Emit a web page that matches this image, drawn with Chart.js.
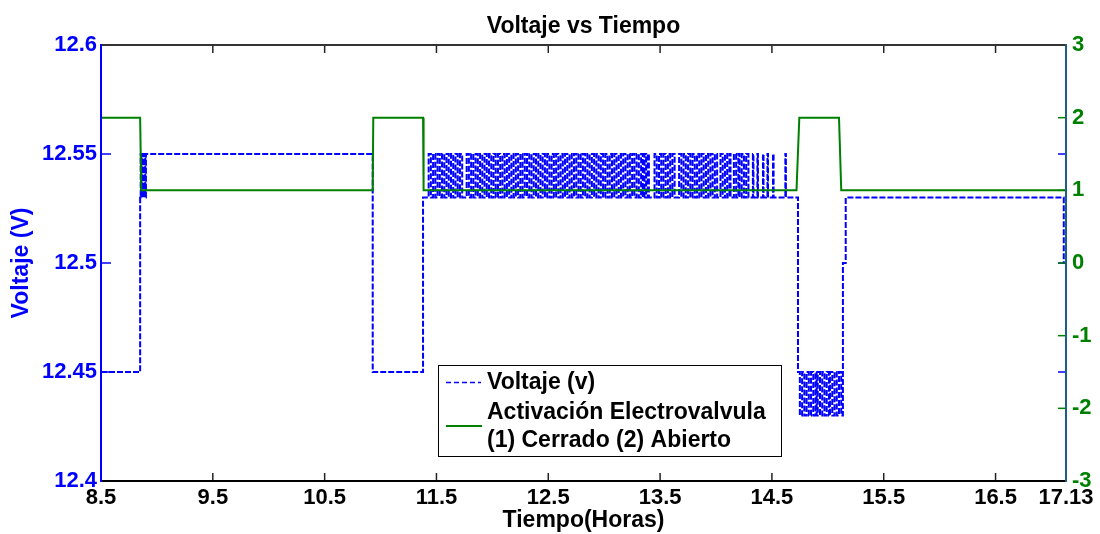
<!DOCTYPE html>
<html><head><meta charset="utf-8">
<script src="https://cdn.jsdelivr.net/npm/chart.js@4.4.1/dist/chart.umd.min.js"></script>
<style>html,body{margin:0;padding:0;background:#fff;}canvas{display:block;}</style>
</head><body>
<canvas id="c" width="1100" height="534"></canvas>
<script>
const chartTitle = 'Voltaje vs Tiempo';
const xTitle = 'Tiempo(Horas)';
const yTitle = 'Voltaje (V)';
const xTicks = [8.5, 9.5, 10.5, 11.5, 12.5, 13.5, 14.5, 15.5, 16.5, 17.13];
const yLeftTicks = [12.4, 12.45, 12.5, 12.55, 12.6];
const yRightTicks = [-3, -2, -1, 0, 1, 2, 3];
const legendVoltage = 'Voltaje (v)';
const legendValve = ['Activación Electrovalvula', '(1) Cerrado (2) Abierto'];

// Voltage (V): each value holds from its time (hours) until the next time
const voltTime = [
  8.5, 8.85, 8.855, 8.86, 8.866, 8.872, 8.878, 8.884, 8.89, 8.896, 8.902,
  10.93, 11.38,
  11.43, 11.45, 11.47, 11.49, 11.51, 11.53, 11.55, 11.57, 11.59, 11.61, 11.63, 11.65, 11.67, 11.69, 11.71, 11.73,
  11.77, 11.79, 11.81, 11.83, 11.85, 11.87, 11.89, 11.91, 11.93, 11.95, 11.97, 11.99,
  12.01, 12.03, 12.05, 12.07, 12.09, 12.11, 12.13, 12.15, 12.17, 12.19, 12.21, 12.23, 12.25, 12.27, 12.29,
  12.31, 12.33, 12.35, 12.37, 12.39, 12.41, 12.43, 12.45, 12.47, 12.49, 12.51, 12.53, 12.55, 12.57, 12.59,
  12.61, 12.63, 12.65, 12.67, 12.69, 12.71, 12.73, 12.75, 12.77, 12.79, 12.81, 12.83, 12.85, 12.87, 12.89,
  12.91, 12.93, 12.95, 12.97, 12.99, 13.01, 13.03, 13.05, 13.07, 13.09, 13.11, 13.13, 13.15, 13.17, 13.19,
  13.21, 13.23, 13.25, 13.27, 13.29, 13.31,
  13.33, 13.345, 13.36, 13.375, 13.39, 13.40,
  13.45, 13.47, 13.49, 13.51, 13.53, 13.55, 13.57, 13.59, 13.61, 13.63,
  13.67, 13.69, 13.71, 13.73, 13.75, 13.77, 13.79, 13.81, 13.83, 13.85, 13.87, 13.89, 13.91, 13.93, 13.95, 13.97, 13.99, 14.01,
  14.04, 14.06, 14.08, 14.10, 14.12, 14.13, 14.16, 14.18, 14.20, 14.21, 14.23, 14.25, 14.27, 14.29,
  14.33, 14.335, 14.37, 14.375, 14.42, 14.425, 14.46, 14.465, 14.51, 14.515, 14.62, 14.625,
  14.733,
  14.75, 14.77, 14.79, 14.81, 14.83, 14.85, 14.87, 14.89, 14.90, 14.91,
  14.93, 14.95, 14.97, 14.99, 15.01, 15.02,
  15.04, 15.06, 15.08, 15.10, 15.12, 15.135, 15.16,
  17.11, 17.13
];
const voltValue = [
  12.45, 12.53, 12.55, 12.53, 12.55, 12.53, 12.55, 12.53, 12.55, 12.53, 12.55,
  12.45, 12.53,
  12.55, 12.53, 12.55, 12.53, 12.55, 12.53, 12.55, 12.53, 12.55, 12.53, 12.55, 12.53, 12.55, 12.53, 12.55, 12.53,
  12.55, 12.53, 12.55, 12.53, 12.55, 12.53, 12.55, 12.53, 12.55, 12.53, 12.55, 12.53,
  12.55, 12.53, 12.55, 12.53, 12.55, 12.53, 12.55, 12.53, 12.55, 12.53, 12.55, 12.53, 12.55, 12.53, 12.55,
  12.53, 12.55, 12.53, 12.55, 12.53, 12.55, 12.53, 12.55, 12.53, 12.55, 12.53, 12.55, 12.53, 12.55, 12.53,
  12.55, 12.53, 12.55, 12.53, 12.55, 12.53, 12.55, 12.53, 12.55, 12.53, 12.55, 12.53, 12.55, 12.53, 12.55,
  12.53, 12.55, 12.53, 12.55, 12.53, 12.55, 12.53, 12.55, 12.53, 12.55, 12.53, 12.55, 12.53, 12.55, 12.53,
  12.55, 12.53, 12.55, 12.53, 12.55, 12.53,
  12.55, 12.53, 12.55, 12.53, 12.55, 12.53,
  12.55, 12.53, 12.55, 12.53, 12.55, 12.53, 12.55, 12.53, 12.55, 12.53,
  12.55, 12.53, 12.55, 12.53, 12.55, 12.53, 12.55, 12.53, 12.55, 12.53, 12.55, 12.53, 12.55, 12.53, 12.55, 12.53, 12.55, 12.53,
  12.55, 12.53, 12.55, 12.53, 12.55, 12.53, 12.55, 12.53, 12.55, 12.53, 12.55, 12.53, 12.55, 12.53,
  12.55, 12.53, 12.55, 12.53, 12.55, 12.53, 12.55, 12.53, 12.55, 12.53, 12.55, 12.53,
  12.45,
  12.43, 12.45, 12.43, 12.45, 12.43, 12.45, 12.43, 12.45, 12.43, 12.45,
  12.43, 12.45, 12.43, 12.45, 12.43, 12.45,
  12.43, 12.45, 12.43, 12.45, 12.43, 12.50, 12.53,
  12.50, 12.50
];

// Valve activation (1 closed, 2 open)
const valveTime = [8.5, 8.85, 8.86, 10.93, 10.935, 11.38, 11.385, 14.72, 14.745, 15.10, 15.12, 17.13];
const valveValue = [2, 2, 1, 1, 2, 2, 1, 1, 2, 2, 1, 1];

const FONT = "'Liberation Sans', Arial, Helvetica, sans-serif";

const titlePlugin = {
  id: 'titlePlugin',
  afterDraw(chart) {
    const {ctx, chartArea} = chart;
    ctx.save();
    ctx.font = 'bold 23px ' + FONT;
    ctx.fillStyle = '#000';
    ctx.textAlign = 'center';
    ctx.textBaseline = 'middle';
    ctx.fillText(chartTitle, (chartArea.left + chartArea.right) / 2, 27);
    ctx.restore();
  }
};

function seg(ctx, x1, y1, x2, y2) { ctx.beginPath(); ctx.moveTo(x1, y1); ctx.lineTo(x2, y2); ctx.stroke(); }

const framePlugin = {
  id: 'framePlugin',
  afterDatasetsDraw(chart) {
    const {ctx, chartArea: {left, right, top, bottom}, scales: {x, y, y1}} = chart;
    ctx.save();
    ctx.lineWidth = 1.5;
    ctx.strokeStyle = '#222';
    xTicks.forEach(v => {
      const px = x.getPixelForValue(v);
      seg(ctx, px, bottom, px, bottom - 8);
      seg(ctx, px, top, px, top + 8);
    });
    ctx.strokeStyle = '#0000ff';
    yLeftTicks.forEach(v => {
      const py = y.getPixelForValue(v);
      seg(ctx, left, py, left + 10, py);
      seg(ctx, right, py, right - 8, py);
    });
    ctx.strokeStyle = '#008000';
    yRightTicks.forEach(v => {
      const py = y1.getPixelForValue(v);
      seg(ctx, right, py, right - 8, py);
    });
    ctx.lineWidth = 2;
    ctx.strokeStyle = '#333';
    seg(ctx, left, top, right, top);
    ctx.strokeStyle = '#000';
    seg(ctx, left, bottom, right, bottom);
    ctx.strokeStyle = '#0000ff';
    seg(ctx, left, top - 1, left, bottom + 1);
    ctx.strokeStyle = '#1d5f7e';
    seg(ctx, right, top - 1, right, bottom + 1);
    ctx.restore();
  }
};

const legendPlugin = {
  id: 'legendPlugin',
  afterDraw(chart) {
    const {ctx} = chart;
    ctx.save();
    ctx.fillStyle = '#fff';
    ctx.fillRect(438, 365, 344, 92);
    ctx.strokeStyle = '#000';
    ctx.lineWidth = 1;
    ctx.strokeRect(438.5, 365.5, 343, 91);
    ctx.strokeStyle = '#0000ff';
    ctx.lineWidth = 1.5;
    ctx.setLineDash([5, 3]);
    seg(ctx, 446, 382.5, 481, 382.5);
    ctx.setLineDash([]);
    ctx.strokeStyle = '#008000';
    ctx.lineWidth = 2;
    seg(ctx, 446, 426, 482, 426);
    ctx.fillStyle = '#000';
    ctx.font = 'bold 23px ' + FONT;
    ctx.textAlign = 'left';
    ctx.textBaseline = 'middle';
    ctx.fillText(legendVoltage, 487, 383);
    ctx.fillText(legendValve[0], 487, 413);
    ctx.fillText(legendValve[1], 487, 441);
    ctx.restore();
  }
};

const tickFont = {family: FONT, size: 22, weight: 'bold'};

new Chart(document.getElementById('c'), {
  type: 'line',
  data: {
    datasets: [
      {
        label: legendVoltage,
        data: voltTime.map((t, i) => ({x: t, y: voltValue[i]})),
        borderColor: '#0000ff',
        borderWidth: 2,
        borderDash: [6, 2],
        stepped: true,
        pointRadius: 0,
        fill: false,
        yAxisID: 'y',
        order: 1
      },
      {
        label: legendValve.join(' '),
        data: valveTime.map((t, i) => ({x: t, y: valveValue[i]})),
        borderColor: '#008000',
        borderWidth: 2,
        pointRadius: 0,
        tension: 0,
        fill: false,
        yAxisID: 'y1',
        order: 0
      }
    ]
  },
  options: {
    responsive: false,
    animation: false,
    devicePixelRatio: 1,
    layout: {padding: {top: 45, left: 0, right: 0, bottom: 0}},
    plugins: {legend: {display: false}, tooltip: {enabled: false}, title: {display: false}},
    scales: {
      x: {
        type: 'linear', position: 'bottom', min: 8.5, max: 17.13,
        afterBuildTicks: s => { s.ticks = xTicks.map(v => ({value: v})); },
        afterFit: s => { s.height = 53; },
        grid: {display: false, drawTicks: false},
        border: {display: false},
        ticks: {autoSkip: false, maxRotation: 0, color: '#000', font: tickFont, padding: 4, callback: v => String(v)},
        title: {display: true, text: xTitle, color: '#000', font: {family: FONT, size: 23, weight: 'bold'}, padding: {top: 0, bottom: 0}}
      },
      y: {
        type: 'linear', position: 'left', min: 12.4, max: 12.6,
        afterBuildTicks: s => { s.ticks = yLeftTicks.map(v => ({value: v})); },
        afterFit: s => { s.width = 101; },
        grid: {display: false, drawTicks: false},
        border: {display: false},
        ticks: {color: '#0000ff', font: tickFont, padding: 4, callback: v => String(v)},
        title: {display: true, text: yTitle, color: '#0000ff', font: {family: FONT, size: 23, weight: 'bold'}, padding: {top: 8, bottom: 0}}
      },
      y1: {
        type: 'linear', position: 'right', min: -3, max: 3,
        afterBuildTicks: s => { s.ticks = yRightTicks.map(v => ({value: v})); },
        afterFit: s => { s.width = 34; },
        grid: {display: false, drawTicks: false},
        border: {display: false},
        ticks: {color: '#008000', font: tickFont, padding: 6, callback: v => String(v)}
      }
    }
  },
  plugins: [titlePlugin, framePlugin, legendPlugin]
});
</script>
</body></html>
